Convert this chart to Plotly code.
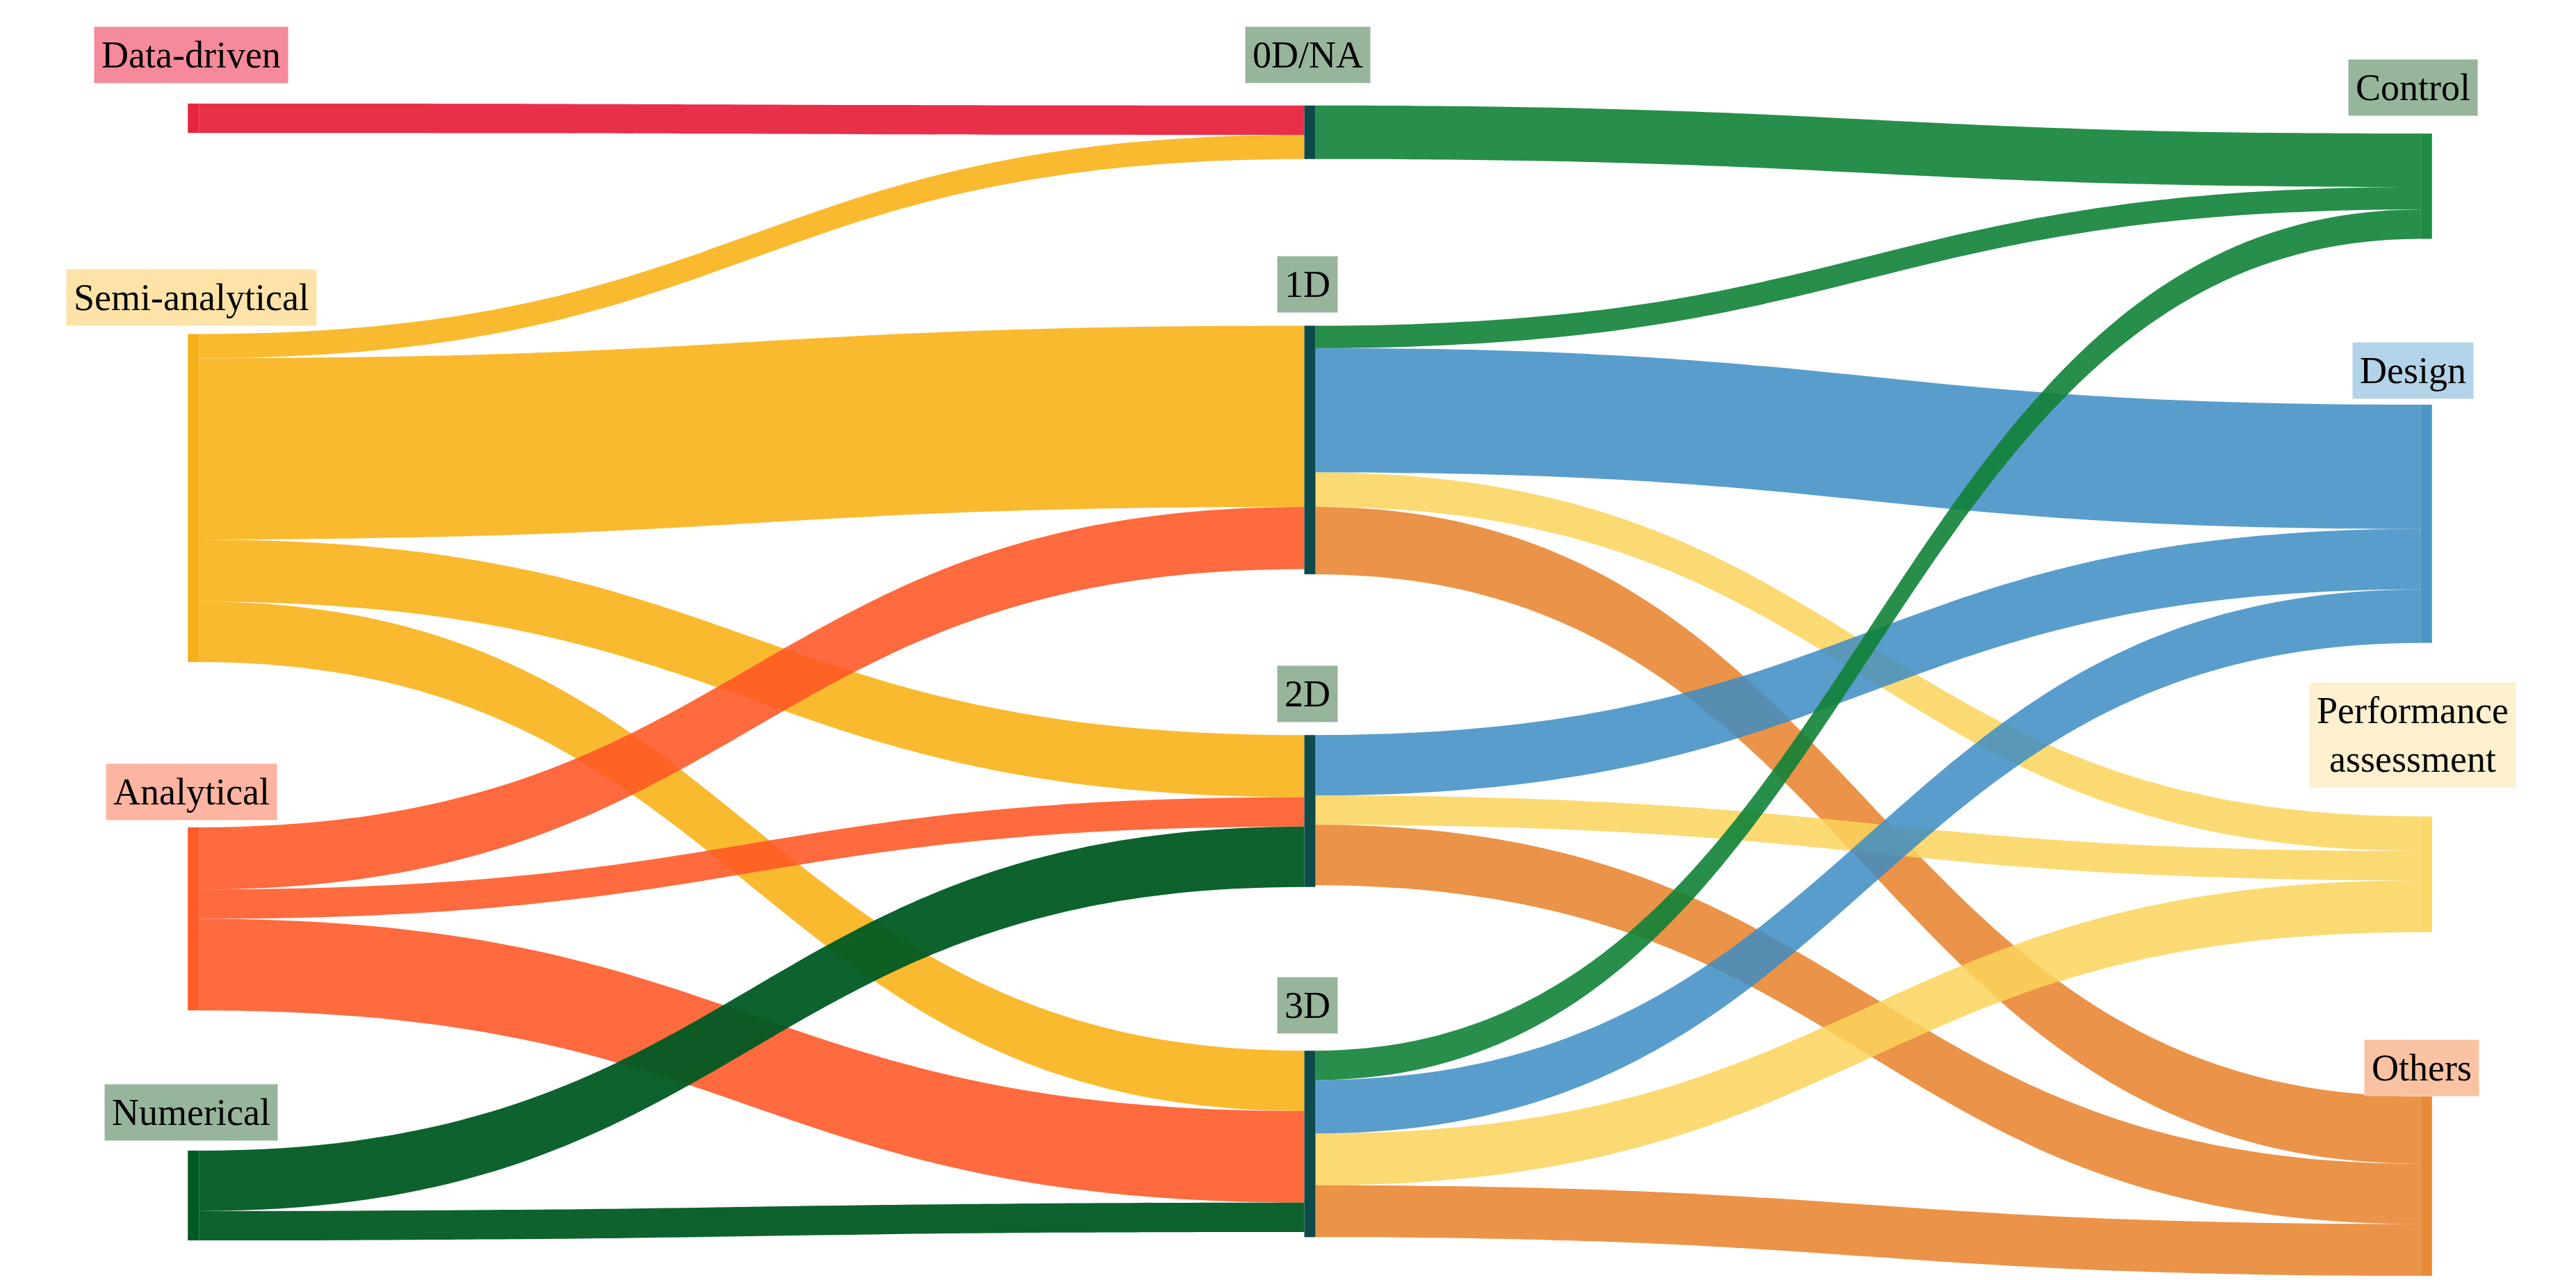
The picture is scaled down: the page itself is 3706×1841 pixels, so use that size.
import plotly.graph_objects as go

nodes = ["Data-driven", "Semi-analytical", "Analytical", "Numerical",
         "0D/NA", "1D", "2D", "3D",
         "Control", "Design", "Performance<br>assessment", "Others"]
sources = [0, 1, 1, 1, 1, 2, 2, 2, 3, 3,
           4, 5, 5, 5, 5, 6, 6, 6, 7, 7, 7, 7]
targets = [4, 4, 5, 6, 7, 5, 6, 7, 6, 7,
           8, 8, 9, 10, 11, 9, 10, 11, 8, 9, 10, 11]
values = [17, 14, 105, 36, 35, 36, 17, 53, 35, 17,
          31, 13, 72, 20, 39, 35, 17, 35, 17, 31, 30, 30]

node_x = [0.001, 0.001, 0.001, 0.001, 0.5, 0.5, 0.5, 0.5, 0.999, 0.999, 0.999, 0.999]
node_y = [0.019, 0.343, 0.702, 0.938, 0.031, 0.302, 0.610, 0.894, 0.077, 0.365, 0.664, 0.930]
node_colors = ["#e8253f", "#f5b01a", "#ff5a2a", "#005a23",
               "#0d4a4a", "#0d4a4a", "#0d4a4a", "#0d4a4a",
               "#1e8c44", "#4a97c6", "#fbd868", "#e98a34"]
src_link = {0: "rgba(232,37,63,0.95)", 1: "rgba(248,178,26,0.9)",
            2: "rgba(255,85,35,0.88)", 3: "rgba(0,90,35,0.95)"}
tgt_link = {8: "rgba(15,130,55,0.9)", 9: "rgba(60,140,195,0.85)",
            10: "rgba(252,212,90,0.85)", 11: "rgba(232,128,40,0.85)"}
link_colors = [src_link[s] if s < 4 else tgt_link[t] for s, t in zip(sources, targets)]

fig = go.Figure(go.Sankey(
    arrangement="fixed",
    node=dict(label=[""] * len(nodes), x=node_x, y=node_y, pad=255, thickness=16,
              color=node_colors, line=dict(width=0)),
    link=dict(source=sources, target=targets, value=values, color=link_colors),
))

label_pos = [(0.0, 1.035), (0.0, 0.828), (0.0, 0.406), (0.0, 0.133),
             (0.499, 1.035), (0.499, 0.839), (0.499, 0.490), (0.499, 0.224),
             (0.993, 1.007), (0.993, 0.766), (0.993, 0.455), (0.997, 0.171)]
label_bg = ["#f58a9a", "#fde3a8", "#fdb4a0", "#97b59b",
            "#97b59b", "#97b59b", "#97b59b", "#97b59b",
            "#97b59b", "#b3d3e8", "#fdf0cf", "#f9c3a3"]
for name, (x, y), bg in zip(nodes, label_pos, label_bg):
    fig.add_annotation(x=x, y=y, xref="paper", yref="paper", text=name, showarrow=False,
                       font=dict(family="Liberation Serif", size=54, color="black"),
                       bgcolor=bg, borderpad=10, xanchor="center", yanchor="middle")

fig.update_layout(width=3706, height=1841, paper_bgcolor="white", plot_bgcolor="white",
                  margin=dict(l=267, r=220, t=130, b=25))
fig.write_html("out.html")
